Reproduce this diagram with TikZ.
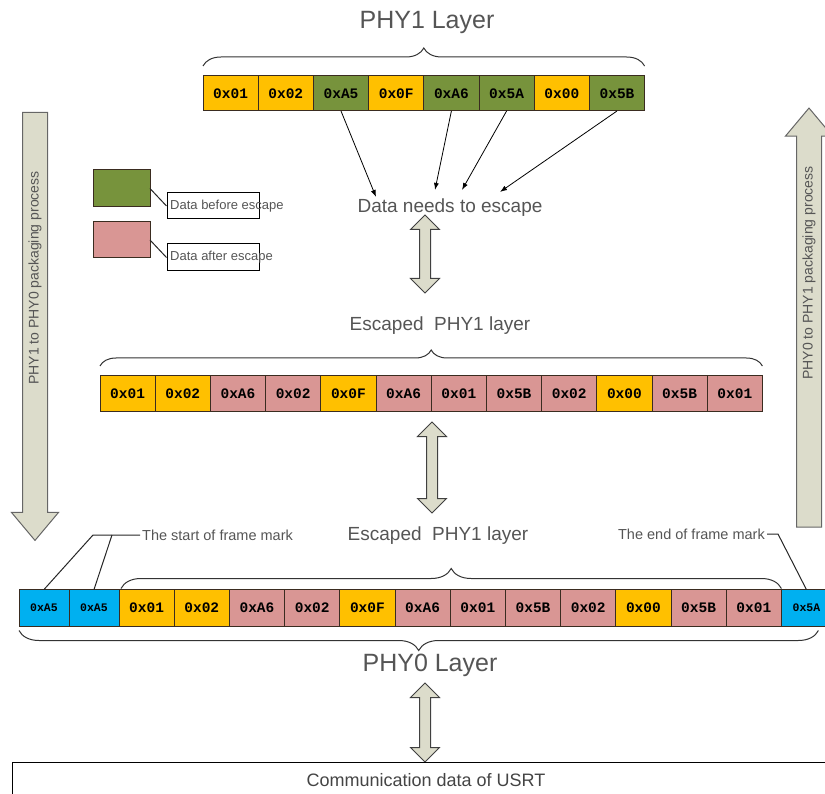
\documentclass[tikz,border=0pt]{standalone}
\usepackage{fontspec}
\setmainfont{Liberation Sans}
\newfontfamily\hexfont{Liberation Mono}
\usepackage{xcolor}
\usetikzlibrary{arrows.meta, positioning, calc, shapes.arrows, decorations.pathreplacing}

\definecolor{hexyellow}{HTML}{FFC000}
\definecolor{hexgreen}{HTML}{77933C}
\definecolor{hexpink}{HTML}{D99694}
\definecolor{hexblue}{HTML}{00B0F0}
\definecolor{arrfill}{HTML}{DCDCCB}
\definecolor{txtgray}{HTML}{555555}
\definecolor{cellline}{HTML}{3A2C20}

\begin{document}
\begin{tikzpicture}[
  x=1pt, y=-1pt,
  cell/.style={
    draw=cellline, line width=1pt,
    minimum width=55.2pt, minimum height=35pt,
    inner sep=0pt, outer sep=0pt,
    font=\hexfont\bfseries\fontsize{14.5}{16}\selectfont
  },
  ycell/.style={cell, fill=hexyellow},
  gcell/.style={cell, fill=hexgreen},
  pcell/.style={cell, fill=hexpink},
  bcell/.style={cell, fill=hexblue, minimum width=50pt,
    font=\hexfont\bfseries\fontsize{11.5}{13}\selectfont},
  lbl/.style={text=txtgray, inner sep=2pt},
  layerlbl/.style={lbl, font=\fontsize{25}{30}\selectfont},
  stagelbl/.style={lbl, font=\fontsize{19}{23}\selectfont},
  marklbl/.style={lbl, font=\fontsize{14.5}{17}\selectfont},
  darr/.style={
    double arrow, draw=black!75, fill=arrfill, line width=1pt,
    rotate=90, double arrow head extend=9pt,
    inner xsep=0pt, inner ysep=5pt
  },
  sarr/.style={
    single arrow, draw=black!60, fill=arrfill, line width=1pt,
    single arrow head extend=11pt, single arrow tip angle=80,
    inner xsep=0pt, inner ysep=12pt
  },
  brc/.style={decorate, decoration={brace, amplitude=#1},
    draw=black!80, line width=1pt},
  arr/.style={-{Latex[length=7pt,width=5pt]}, line width=0.8pt},
  lnk/.style={draw=black!85, line width=1pt},
]
\useasboundingbox (0,0) rectangle (825,794);
\clip (0,0) rectangle (825,794);

%% PHY1 layer (x spacing = 55.2)
\node[layerlbl] (phy1) at (427,22) {PHY1 Layer};
\node[ycell] (t1) at (230.6,93.5) {0x01};
\node[ycell] (t2) at (285.8,93.5) {0x02};
\node[gcell] (t3) at (341.0,93.5) {0xA5};
\node[ycell] (t4) at (396.2,93.5) {0x0F};
\node[gcell] (t5) at (451.4,93.5) {0xA6};
\node[gcell] (t6) at (506.6,93.5) {0x5A};
\node[ycell] (t7) at (561.8,93.5) {0x00};
\node[gcell] (t8) at (617.0,93.5) {0x5B};
\draw[brc=18pt] ([yshift=10pt]t1.north west) -- ([yshift=10pt]t8.north east);

%% Legend
\node[cell, fill=hexgreen, minimum width=57pt, minimum height=37pt] (keybefore) at (121.5,188.5) {};
\node[cell, fill=hexpink, minimum width=57pt, minimum height=36pt] (keyafter) at (121.5,240) {};
\node[draw, line width=1pt, minimum width=92pt, minimum height=26pt] (beforebox) at (213,206) {};
\node[draw, line width=1pt, minimum width=92pt, minimum height=27pt] (afterbox) at (213,257.5) {};
\node[lbl, anchor=west, font=\fontsize{13}{15}\selectfont] (beforetxt) at (168,206) {Data before escape};
\node[lbl, anchor=west, font=\fontsize{13}{15}\selectfont] (aftertxt) at (168,257.5) {Data after escape};
\draw[lnk] (keybefore.east) -- (beforebox.west);
\draw[lnk] (keyafter.east) -- (afterbox.west);

%% Bytes that need escaping
\node[stagelbl] (escape) at (450,208) {Data needs to escape};
\draw[arr] (t3.south) -- ([xshift=-74pt]escape.north);
\draw[arr] (t5.south) -- ([xshift=-15pt,yshift=7pt]escape.north);
\draw[arr] (t6.south) -- ([xshift=12pt,yshift=7pt]escape.north);
\draw[arr] (t8.south) -- ([xshift=50pt,yshift=5pt]escape.north);
\node[darr, minimum height=78pt] (step1) at (425,254) {};

%% Escaped PHY1 layer
\node[stagelbl] (esc1) at (440,326) {Escaped\ \ PHY1 layer};
\node[ycell] (m1)  at (127.6,393.5) {0x01};
\node[ycell] (m2)  at (182.8,393.5) {0x02};
\node[pcell] (m3)  at (238.0,393.5) {0xA6};
\node[pcell] (m4)  at (293.2,393.5) {0x02};
\node[ycell] (m5)  at (348.4,393.5) {0x0F};
\node[pcell] (m6)  at (403.6,393.5) {0xA6};
\node[pcell] (m7)  at (458.8,393.5) {0x01};
\node[pcell] (m8)  at (514.0,393.5) {0x5B};
\node[pcell] (m9)  at (569.2,393.5) {0x02};
\node[ycell] (m10) at (624.4,393.5) {0x00};
\node[pcell] (m11) at (679.6,393.5) {0x5B};
\node[pcell] (m12) at (734.8,393.5) {0x01};
\draw[brc=16pt] ([yshift=10pt]m1.north west) -- ([yshift=10pt]m12.north east);
\node[darr, minimum height=91pt] (step2) at (432,467.5) {};

%% PHY0 layer
\node[stagelbl] (esc2) at (438,536) {Escaped\ \ PHY1 layer};
\node[bcell, minimum height=37pt] (b1)  at (44,608)    {0xA5};
\node[bcell, minimum height=37pt] (b2)  at (94,608)    {0xA5};
\node[ycell, minimum height=37pt] (b3)  at (146.6,608) {0x01};
\node[ycell, minimum height=37pt] (b4)  at (201.8,608) {0x02};
\node[pcell, minimum height=37pt] (b5)  at (257.0,608) {0xA6};
\node[pcell, minimum height=37pt] (b6)  at (312.2,608) {0x02};
\node[ycell, minimum height=37pt] (b7)  at (367.4,608) {0x0F};
\node[pcell, minimum height=37pt] (b8)  at (422.6,608) {0xA6};
\node[pcell, minimum height=37pt] (b9)  at (477.8,608) {0x01};
\node[pcell, minimum height=37pt] (b10) at (533.0,608) {0x5B};
\node[pcell, minimum height=37pt] (b11) at (588.2,608) {0x02};
\node[ycell, minimum height=37pt] (b12) at (643.4,608) {0x00};
\node[pcell, minimum height=37pt] (b13) at (698.6,608) {0x5B};
\node[pcell, minimum height=37pt] (b14) at (753.8,608) {0x01};
\node[bcell, minimum height=37pt] (b15) at (806.4,608) {0x5A};
\draw[brc=20pt] ([xshift=2pt,yshift=1pt]b3.north west) -- ([yshift=1pt]b14.north east);
\draw[brc=20pt, decoration={mirror}] ([yshift=-4pt]b1.south west) -- ([xshift=-13pt,yshift=-4pt]b15.south east);
\node[layerlbl] (phy0) at (430,665) {PHY0 Layer};

%% Frame marks
\node[marklbl, anchor=west] (smark) at (140,535) {The start of frame mark};
\node[marklbl, anchor=east] (emark) at (767,534) {The end of frame mark};
\draw[lnk] (smark.west) -- ++(-47,0) -- (b1.north);
\draw[lnk] ([xshift=-28pt]smark.west) -- (b2.north);
\draw[lnk] (emark.east) -- ++(11,0) -- (b15.north);

%% USRT
\node[darr, minimum height=79pt] (step3) at (425,722.5) {};
\node[draw, line width=1pt, anchor=north, minimum width=828pt, inner sep=0pt,
  text height=24pt, text depth=26pt, font=\fontsize{18}{22}\selectfont,
  text=txtgray!80!black] (usrt) at (426,762) {Communication data of USRT};

%% Side arrows
\node[sarr, rotate=-90, minimum height=428pt] (down) at (35,319) {};
\node[marklbl, rotate=90, font=\fontsize{14}{16}\selectfont] (downtxt) at (35,278) {PHY1 to PHY0 packaging process};
\node[sarr, rotate=90, minimum height=419pt] (up) at (809,325) {};
\node[marklbl, rotate=90, font=\fontsize{14}{16}\selectfont] (uptxt) at (809,273) {PHY0 to PHY1 packaging process};
\end{tikzpicture}
\end{document}
